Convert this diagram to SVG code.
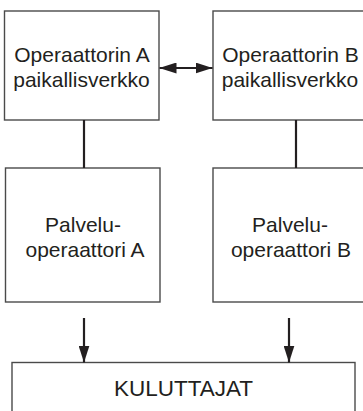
<svg xmlns="http://www.w3.org/2000/svg" width="363" height="411" viewBox="0 0 363 411">
<style>
.box{fill:#fff;stroke:#4a4a4a;stroke-width:1.4}
.t{font-family:"Liberation Sans",Arial,sans-serif;font-size:21px;fill:#231f20;text-anchor:middle}
.ln{stroke:#231f20;stroke-width:2.2;fill:none}
</style>
<defs>
<marker id="ah" viewBox="0 0 17 11" refX="17" refY="5.5" markerWidth="17" markerHeight="11" markerUnits="userSpaceOnUse" orient="auto-start-reverse">
<path d="M0,0 L17,5.5 L0,11 Z" fill="#231f20"/>
</marker>
</defs>
<rect width="363" height="411" fill="#fff"/>
<g id="opA">
<rect class="box" x="4.5" y="11" width="154.5" height="109"/>
<text class="t" x="82" y="61.5">Operaattorin A</text>
<text class="t" x="81.5" y="86.5">paikallisverkko</text>
</g>
<g id="opB">
<rect class="box" x="213" y="11" width="160" height="109"/>
<text class="t" x="290.5" y="61.5">Operaattorin B</text>
<text class="t" x="290" y="86.5">paikallisverkko</text>
</g>
<g id="palA">
<rect class="box" x="5.5" y="168" width="154.5" height="134"/>
<text class="t" x="83" y="232">Palvelu-</text>
<text class="t" x="85" y="256.5">operaattori A</text>
</g>
<g id="palB">
<rect class="box" x="213" y="168" width="160" height="134"/>
<text class="t" x="290" y="232">Palvelu-</text>
<text class="t" x="291" y="256.5">operaattori B</text>
</g>
<g id="kul">
<rect class="box" x="12" y="362.5" width="343" height="60"/>
<text class="t" x="183.5" y="396" style="font-size:22.5px">KULUTTAJAT</text>
</g>
<g id="connectors">
<line class="ln" x1="159.5" y1="68" x2="212.5" y2="68" marker-start="url(#ah)" marker-end="url(#ah)"/>
<line class="ln" x1="84" y1="120" x2="84" y2="168"/>
<line class="ln" x1="296" y1="120" x2="296" y2="168"/>
<line class="ln" x1="84" y1="318" x2="84" y2="362.5" marker-end="url(#ah)"/>
<line class="ln" x1="289" y1="318" x2="289" y2="362.5" marker-end="url(#ah)"/>
</g>
</svg>
